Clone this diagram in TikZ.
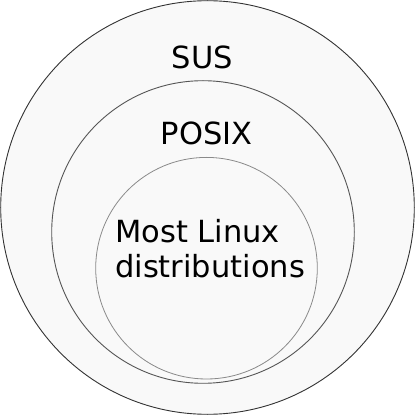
\documentclass[tikz,border=0pt]{standalone}
\usepackage{fontspec}
\setmainfont{DejaVu Sans}
\definecolor{fillgray}{HTML}{F9F9F9}
\definecolor{outerline}{HTML}{333333}
\definecolor{midline}{HTML}{555555}
\definecolor{innerline}{HTML}{8A8A8A}
\tikzset{
  ring/.style={fill=fillgray, line width=0.9bp},
  lbl/.style={inner sep=0pt, font=\fontsize{30.5bp}{36bp}\selectfont, text=black}
}
\begin{document}
\begin{tikzpicture}[x=1bp,y=1bp]
\useasboundingbox (0,0) rectangle (415,415);
\draw[ring, draw=outerline] (207.5,207.5) circle[radius=206.8];
\draw[ring, draw=midline] (203,183) circle[radius=151.3];
\draw[ring, draw=innerline, line width=0.8bp] (206.5,146.8) circle[radius=110.8];
\node[lbl, anchor=base] (sus) at (202.5,346.7) {SUS};
\node[lbl, anchor=base] (posix) at (206.8,270.7) {POSIX};
\node[lbl, anchor=base west] (linuxa) at (115,172.7) {Most Linux};
\node[lbl, anchor=base west] (linuxb) at (115,137.3) {distributions};
\end{tikzpicture}
\end{document}
